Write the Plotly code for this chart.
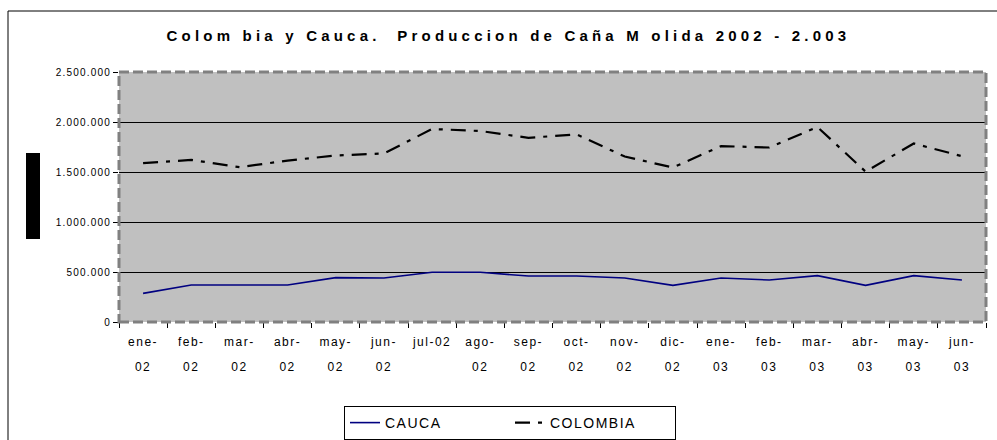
import plotly.graph_objects as go

# ---- data ----
months = ["ene-02", "feb-02", "mar-02", "abr-02", "may-02", "jun-02", "jul-02", "ago-02", "sep-02",
          "oct-02", "nov-02", "dic-02", "ene-03", "feb-03", "mar-03", "abr-03", "may-03", "jun-03"]
tick_line1 = ["ene-", "feb-", "mar-", "abr-", "may-", "jun-", "jul-02", "ago-", "sep-",
              "oct-", "nov-", "dic-", "ene-", "feb-", "mar-", "abr-", "may-", "jun-"]
tick_line2 = ["02", "02", "02", "02", "02", "02", "", "02", "02",
              "02", "02", "02", "03", "03", "03", "03", "03", "03"]
cauca = [286000, 370000, 370000, 370000, 444000, 440000, 497000, 497000, 460000,
         460000, 440000, 366000, 440000, 420000, 464000, 366000, 464000, 420000]
colombia = [1588000, 1621000, 1548000, 1614000, 1665000, 1685000, 1930000, 1910000, 1842000,
            1876000, 1655000, 1545000, 1759000, 1745000, 1950000, 1504000, 1785000, 1658000]
y_ticks = [0, 500000, 1000000, 1500000, 2000000, 2500000]
title_text = "Colom bia y Cauca.  Produccion de Caña M olida 2002 - 2.003"

FONT = "Liberation Sans, Arial, sans-serif"
x_range = [-0.5, len(months) - 0.5]

fig = go.Figure()
fig.add_trace(go.Scatter(x=months, y=cauca, name="CAUCA", mode="lines",
                         line=dict(color="#000080", width=1.6), xaxis="x", yaxis="y"))
fig.add_trace(go.Scatter(x=months, y=colombia, name="COLOMBIA", mode="lines",
                         line=dict(color="#000000", width=2.2, dash="15px,8px,4px,8px"),
                         xaxis="x2", yaxis="y"))

fig.update_layout(
    width=997, height=440,
    margin=dict(l=119, r=11, t=72, b=118, autoexpand=False),
    paper_bgcolor="white", plot_bgcolor="#C0C0C0",
    separators=",.",
    font=dict(family=FONT, color="black"),
    title=dict(text="<b>" + title_text + "</b>", x=0.51, xanchor="center", xref="container",
               y=1 - 36 / 440, yanchor="middle", yref="container",
               font=dict(family=FONT, size=15, color="black")),
    xaxis=dict(type="category", categoryorder="array", categoryarray=months, range=x_range,
               tickmode="array", tickvals=months, ticktext=tick_line1,
               ticks="outside", tickson="boundaries", ticklen=5, tickcolor="black", tickwidth=1,
               showgrid=False, showline=False, zeroline=False, automargin=False,
               tickfont=dict(family=FONT, size=12, color="black"), ticklabelstandoff=11),
    xaxis2=dict(type="category", categoryorder="array", categoryarray=months, range=x_range,
                overlaying="x", matches="x", anchor="y", side="bottom",
                tickmode="array", tickvals=months, ticktext=tick_line2,
                ticks="", showgrid=False, showline=False, zeroline=False, automargin=False,
                tickfont=dict(family=FONT, size=12, color="black"), ticklabelstandoff=36),
    yaxis=dict(range=[0, 2500000], tickmode="array", tickvals=y_ticks, tickformat=",d",
               ticks="outside", ticklen=5, tickcolor="black", tickwidth=1, automargin=False,
               showgrid=True, gridcolor="#000000", gridwidth=1, zeroline=False, showline=False,
               tickfont=dict(family=FONT, size=10, color="black")),
    legend=dict(orientation="h", x=(510 - 119) / 867, xanchor="center", y=-0.336, yanchor="top",
                bgcolor="white", bordercolor="black", borderwidth=1,
                entrywidth=120, entrywidthmode="pixels",
                font=dict(family=FONT, size=14, color="black")),
    showlegend=True,
    hovermode=False,
)

# dashed plot-area border
fig.add_shape(type="rect", xref="paper", yref="paper", x0=0, x1=1, y0=0, y1=1,
              line=dict(color="#808080", width=3, dash="10px,4px"), layer="above")
# outer chart frame
fig.add_shape(type="rect", xref="paper", yref="paper",
              x0=(8 - 119) / 867, x1=(1010 - 119) / 867, y0=(322 - 470) / 250, y1=(322 - 11) / 250,
              line=dict(color="black", width=1), fillcolor="rgba(0,0,0,0)", layer="below")
# black block where the axis title sits
fig.add_shape(type="rect", xref="paper", yref="paper",
              x0=(26 - 119) / 867, x1=(40 - 119) / 867, y0=(322 - 239) / 250, y1=(322 - 153) / 250,
              line=dict(width=0), fillcolor="black", layer="above")

post = """
document.body.style.margin='0';
document.body.style.overflow='hidden';
var gd = document.getElementById('{plot_id}');
function ls(){
  gd.querySelectorAll('.gtitle').forEach(function(e){e.style.letterSpacing='4.2px';});
  gd.querySelectorAll('.xtick text, .x2tick text').forEach(function(e){e.style.letterSpacing='1.5px';});
  gd.querySelectorAll('.ytick text').forEach(function(e){e.style.letterSpacing='1.2px';});
  gd.querySelectorAll('.legendtext').forEach(function(e){e.style.letterSpacing='1.5px';});
}
ls();
"""

fig.write_html("out.html", post_script=post, config={"displayModeBar": False, "staticPlot": True})
